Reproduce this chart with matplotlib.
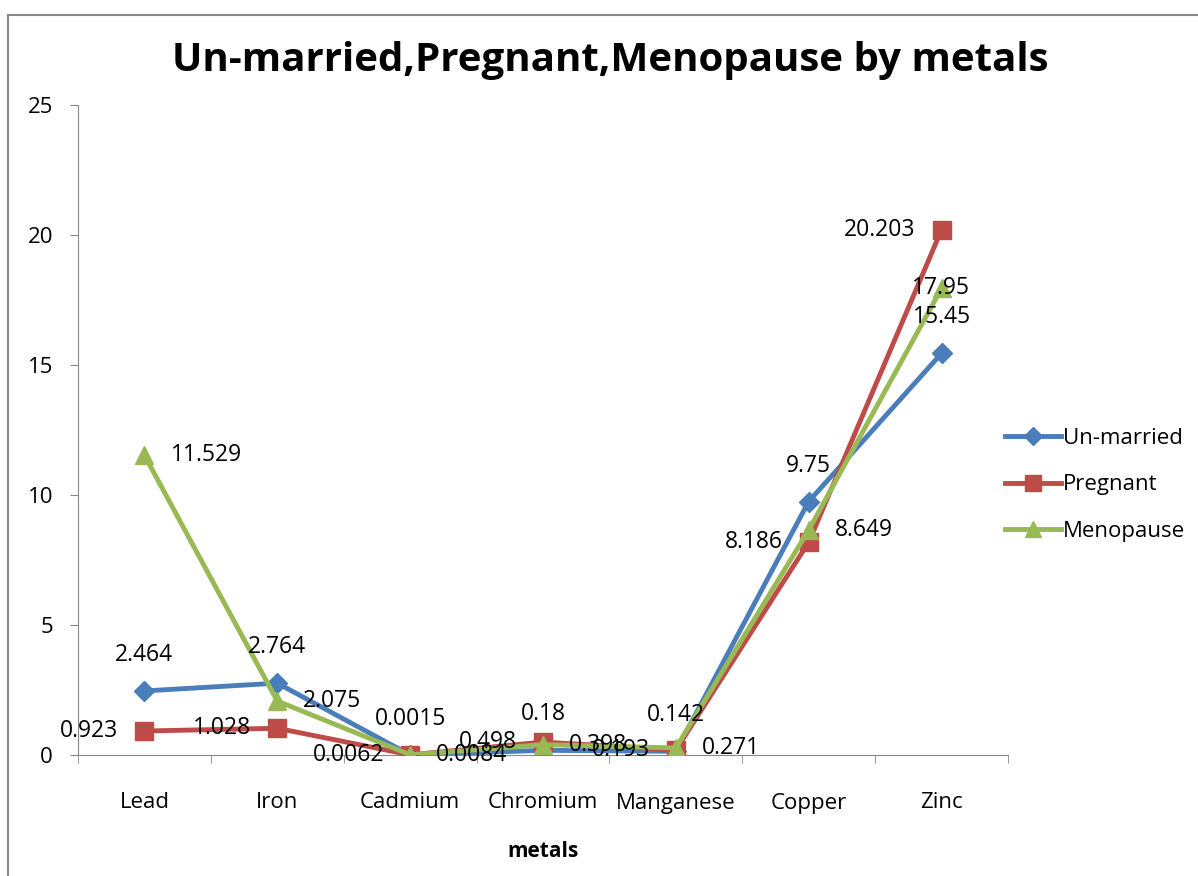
import matplotlib.pyplot as plt
from matplotlib.lines import Line2D

plt.rcParams['font.family'] = ['Open Sans', 'DejaVu Sans']

metals = ['Lead', 'Iron', 'Cadmium', 'Chromium', 'Manganese', 'Copper', 'Zinc']
unmarried = [2.464, 2.764, 0.0015, 0.18, 0.142, 9.75, 15.45]
pregnant = [0.923, 1.028, 0.0062, 0.498, 0.193, 8.186, 20.203]
menopause = [11.529, 2.075, 0.0084, 0.398, 0.271, 8.649, 17.95]

blue = '#4A7EBB'
red = '#BE4B48'
green = '#98B954'

W, H = 1198, 876
fig = plt.figure(figsize=(W / 100, H / 100), dpi=100)
ax = fig.add_axes([78 / W, 121 / H, (1008 - 78) / W, (755 - 105) / H])

x = list(range(len(metals)))
ax.plot(x, unmarried, color=blue, lw=3.5, marker='D', ms=10, label='Un-married', zorder=3)
ax.plot(x, pregnant, color=red, lw=3.5, marker='s', ms=13, label='Pregnant', zorder=3)
ax.plot(x, menopause, color=green, lw=3.5, marker='^', ms=13, label='Menopause', zorder=4)

fs = 16.5
# data labels: un-married above, pregnant left, menopause right
for xi, v in zip(x, unmarried):
    ax.annotate(f'{v:g}', (xi, v), xytext=(0, 24), textcoords='offset pixels',
                ha='center', va='bottom', fontsize=fs, zorder=5)
for xi, v in zip(x, pregnant):
    ax.annotate(f'{v:g}', (xi, v), xytext=(-26, 0), textcoords='offset pixels',
                ha='right', va='center', fontsize=fs, zorder=5)
for xi, v in zip(x, menopause):
    dx = 26 if xi < len(x) - 1 else -30
    ax.annotate(f'{v:g}', (xi, v), xytext=(dx, 0), textcoords='offset pixels',
                ha='left', va='center', fontsize=fs, zorder=5)

ax.set_xlim(-0.5, len(metals) - 0.5)
ax.set_ylim(0, 25)
ax.set_yticks([0, 5, 10, 15, 20, 25])
ax.set_xticks(x)
ax.set_xticklabels(metals, fontsize=16)
ax.set_xticks([i - 0.5 for i in range(len(metals) + 1)], minor=True)
ax.tick_params(axis='x', which='major', length=0, pad=27)
ax.tick_params(axis='x', which='minor', length=6, color='#888888', direction='out')
ax.tick_params(axis='y', length=6, color='#888888', labelsize=16, pad=12)
for s in ['top', 'right']:
    ax.spines[s].set_visible(False)
ax.spines['left'].set_color('#888888')
ax.spines['bottom'].set_color('#888888')
ax.set_xlabel('metals', fontsize=15, fontweight='bold', labelpad=20)

fig.text(610 / W, 1 - 60 / H, 'Un-married,Pregnant,Menopause by metals',
         ha='center', va='center', fontsize=29, fontweight='bold')

handles = [Line2D([], [], color=blue, lw=3.5, marker='D', ms=9),
           Line2D([], [], color=red, lw=3.5, marker='s', ms=12),
           Line2D([], [], color=green, lw=3.5, marker='^', ms=12)]
fig.legend(handles, ['Un-married', 'Pregnant', 'Menopause'], loc='center left',
           bbox_to_anchor=(985 / W, 1 - 485 / H), frameon=False, fontsize=16,
           handlelength=2.5, handletextpad=0.1, labelspacing=1.15)

# outer chart frame (left and top borders visible in the crop)
fig.add_artist(Line2D([8 / W, 8 / W], [0, 1 - 15 / H], color='#888888', lw=1.5,
                      transform=fig.transFigure))
fig.add_artist(Line2D([8 / W, 1], [1 - 15 / H, 1 - 15 / H], color='#888888', lw=1.5,
                      transform=fig.transFigure))

fig.savefig('out.png', dpi=100)
